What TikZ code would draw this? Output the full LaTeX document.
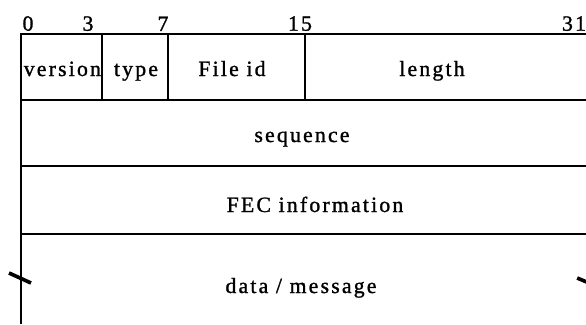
\documentclass[tikz,border=0pt]{standalone}
\usepackage{fontspec}
\setmainfont[LetterSpace=10,FakeBold=1.2]{Liberation Serif}
\usepackage{tikz}

\tikzset{
        frame/.style = {line width=1pt},
        brk/.style   = {line width=2.6pt},
        bitno/.style = {font=\fontsize{15.5}{18}\selectfont, above, inner sep=2pt},
        field/.style = {font=\fontsize{15.5}{18}\selectfont, anchor=base}
}

\begin{document}
\begin{tikzpicture}

        \useasboundingbox (0,0) rectangle (14.65,8.1);

        %Frame
        \draw [frame]  (0.525,0)    -- (0.525,7.25) -- (14.65,7.25);
        \draw [frame]  (0.525,5.6)  -- (14.65,5.6);
        \draw [frame]  (0.525,3.95) -- (14.65,3.95);
        \draw [frame]  (0.525,2.25) -- (14.65,2.25);

        %Header word dividers
        \draw [frame]  (2.55,7.25)  -- (2.55,5.6);
        \draw [frame]  (4.2,7.25)   -- (4.2,5.6);
        \draw [frame]  (7.625,7.25) -- (7.625,5.6);

        %Bit numbers
        \node [bitno] (b0)  at (0.7,7.25)   {0};
        \node [bitno] (b3)  at (2.2,7.25)   {3};
        \node [bitno] (b7)  at (4.075,7.25) {7};
        \node [bitno] (b15) at (7.5,7.25)   {15};
        \node [bitno] (b31) at (14.35,7.25) {31};

        %Fields
        \node [field] (version)  at (1.56,6.2)   {version};
        \node [field] (type)     at (3.4,6.2)    {type};
        \node [field] (fileid)   at (5.8,6.2)    {File id};
        \node [field] (length)   at (10.8,6.2)   {length};
        \node [field] (sequence) at (7.55,4.55)  {sequence};
        \node [field] (fec)      at (7.875,2.8)  {FEC information};
        \node [field] (data)     at (7.525,0.775) {data / message};

        %Break marks
        \draw [brk]    (0.225,1.275) -- (0.775,1.025);
        \draw [brk]    (14.43,1.15)  -- (14.9,0.95);

\end{tikzpicture}
\end{document}
